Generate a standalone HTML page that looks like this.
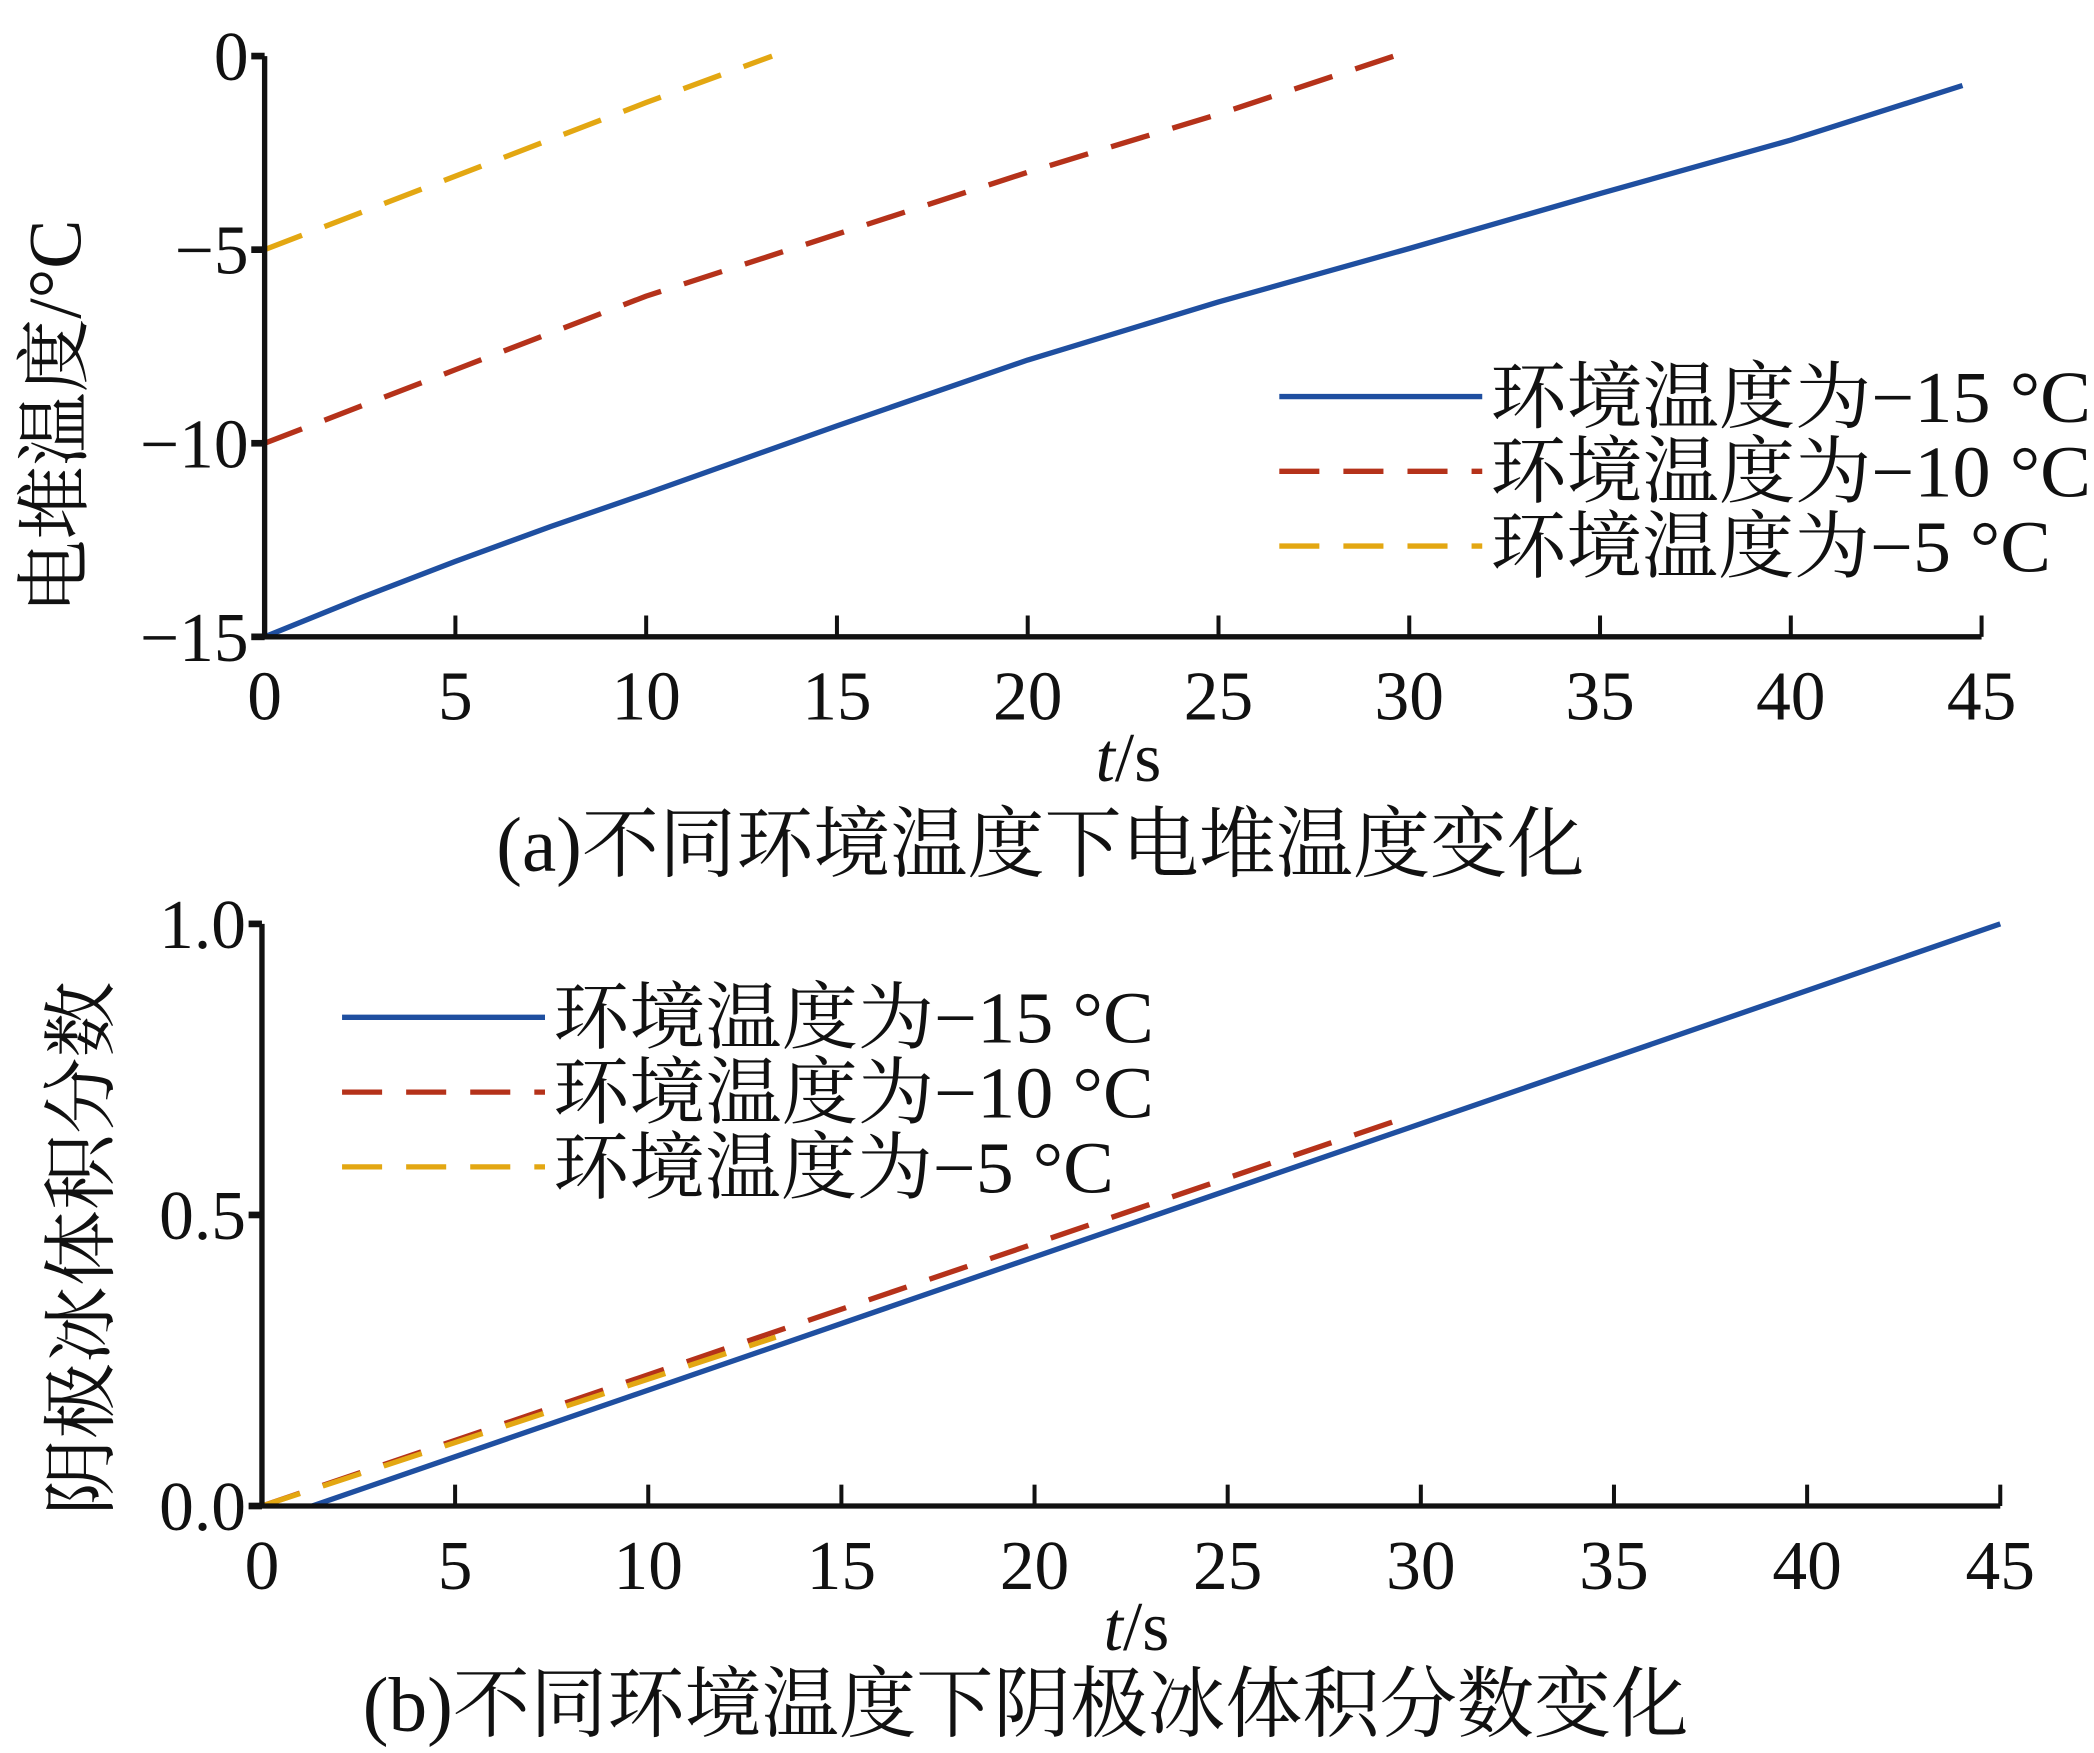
<!DOCTYPE html>
<html><head><meta charset="utf-8"><style>
html,body{margin:0;padding:0;background:#fff}
svg{display:block}
text{font-family:"Liberation Serif","Noto Serif CJK SC","Noto Sans CJK SC",serif;fill:#111}
</style></head><body>
<svg id="chart" width="2094" height="1753" viewBox="0 0 1568 1313" xmlns="http://www.w3.org/2000/svg"></svg>
<script>
// Panel (a) data
const tA = [0,2.5,5,7.5,10,15,20,25,30,35,40,44.5];
const stack15 = [-15,-14.0,-13.05,-12.15,-11.3,-9.55,-7.85,-6.35,-4.97,-3.55,-2.17,-0.76];
const tA10 = [0,5,10,15,20,25,29.6];
const stack10 = [-10,-8.1,-6.2,-4.6,-3.0,-1.5,0];
const tA5 = [0,5,10,13.3];
const stack5 = [-5,-3.1,-1.2,0];
const xTicks = [0,5,10,15,20,25,30,35,40,45];
const yTicksA = [0,-5,-10,-15];
// Panel (b) data
const tB15 = [1.3,45];
const ice15 = [0,1.0];
const tB10 = [0,29.5];
const ice10 = [0,0.665];
const tB5 = [0,13.3];
const ice5 = [0,0.29];
const yTicksB = [0,0.5,1.0];
const legendLabels = ["环境温度为−15 °C","环境温度为−10 °C","环境温度为−5 °C"];
const legendLens = [450,450,420];

const NS="http://www.w3.org/2000/svg";
const svg=document.getElementById('chart');
function el(tag,attrs,parent){const e=document.createElementNS(NS,tag);for(const k in attrs)e.setAttribute(k,attrs[k]);(parent||svg).appendChild(e);return e;}
const colors=["#1f4fa0","#b5321a","#e3a712"];
const dashes=["none","30 18","30 18"];

function panel(cfg){
  const g=el('g',{});
  
  
  const X=v=>cfg.x0+(v-0)/45*(cfg.x1-cfg.x0);
  const Y=v=>cfg.yb+(v-cfg.ymin)/(cfg.ymax-cfg.ymin)*(cfg.yt-cfg.yb);
  cfg.series.forEach((s,i)=>{
    const p=el('polyline',{points:s.t.map((t,j)=>X(t)+','+Y(s.v[j])).join(' '),fill:'none',stroke:colors[i],'stroke-width':4,'stroke-dasharray':dashes[i],'stroke-linejoin':'round'},g);
    
    
  });
  const ax=el('path',{d:`M${X(0)},${Y(cfg.ymax)} L${X(0)},${cfg.yb} L${X(45)},${cfg.yb}`,fill:'none',stroke:'#111','stroke-width':4},g);
  
  
  xTicks.forEach(t=>{
    el('line',{x1:X(t),x2:X(t),y1:cfg.yb,y2:cfg.yb-16,stroke:'#111','stroke-width':3},g);
    const tx=el('text',{x:X(t),y:cfg.yb+62,'font-size':52,'text-anchor':'middle'},g);
    tx.textContent=t;
    
    
  });
  cfg.yTicks.forEach(v=>{
    el('line',{x1:X(0),x2:X(0)-10,y1:Y(v),y2:Y(v),stroke:'#111','stroke-width':5},g);
    const tx=el('text',{x:X(0)-12,y:Y(v)+18,'font-size':52,'text-anchor':'end'},g);
    tx.textContent=cfg.fmt(v);
    
    
  });
  legendLabels.forEach((lab,i)=>{
    const y=cfg.legY+i*56;
    const ln=el('line',{x1:cfg.legX,x2:cfg.legX+152,y1:y,y2:y,stroke:colors[i],'stroke-width':4,'stroke-dasharray':i?'30 18':'none'},g);
    
    
    const tx=el('text',{x:cfg.legX+158,y:y+19,'font-size':55,textLength:legendLens[i],lengthAdjust:'spacingAndGlyphs'},g);
    tx.textContent=lab;
    
    
  });
  const xt=el('text',{x:(X(0)+X(45))/2+4,y:cfg.yb+108,'font-size':52,'text-anchor':'middle'},g);
  xt.innerHTML='<tspan font-style="italic">t</tspan>/s';
  
  
  const yt=el('text',{x:0,y:0,'font-size':56,'text-anchor':'middle',textLength:cfg.ylen,lengthAdjust:'spacingAndGlyphs',transform:`translate(${cfg.ylx},${cfg.yly}) rotate(-90)`},g);
  yt.textContent=cfg.ylabel;
  
  
  const cap=el('text',{x:cfg.capX,y:cfg.capY,'font-size':58,'text-anchor':'middle',textLength:cfg.caplen,lengthAdjust:'spacingAndGlyphs'},g);
  cap.textContent=cfg.caption;
  
  
}
panel({name:'panel-a',x0:198,x1:1484,yb:477,yt:42,ymin:-15,ymax:0,yTicks:yTicksA,fmt:v=>v<0?'−'+(-v):String(v),
  series:[{key:'minus15',t:tA,v:stack15},{key:'minus10',t:tA10,v:stack10},{key:'minus5',t:tA5,v:stack5}],
  legX:958,legY:297,ylabel:'电堆温度/°C',ylen:295,ylx:60,yly:312,caption:'(a)不同环境温度下电堆温度变化',caplen:815,capX:779,capY:652});
panel({name:'panel-b',x0:196,x1:1498,yb:1128,yt:692,ymin:0,ymax:1,yTicks:yTicksB,fmt:v=>v.toFixed(1),
  series:[{key:'minus15',t:tB15,v:ice15},{key:'minus10',t:tB10,v:ice10},{key:'minus5',t:tB5,v:ice5}],
  legX:256,legY:762,ylabel:'阴极冰体积分数',ylen:400,ylx:80,yly:935,caption:'(b)不同环境温度下阴极冰体积分数变化',caplen:993,capX:768,capY:1296});
</script>
</body></html>
